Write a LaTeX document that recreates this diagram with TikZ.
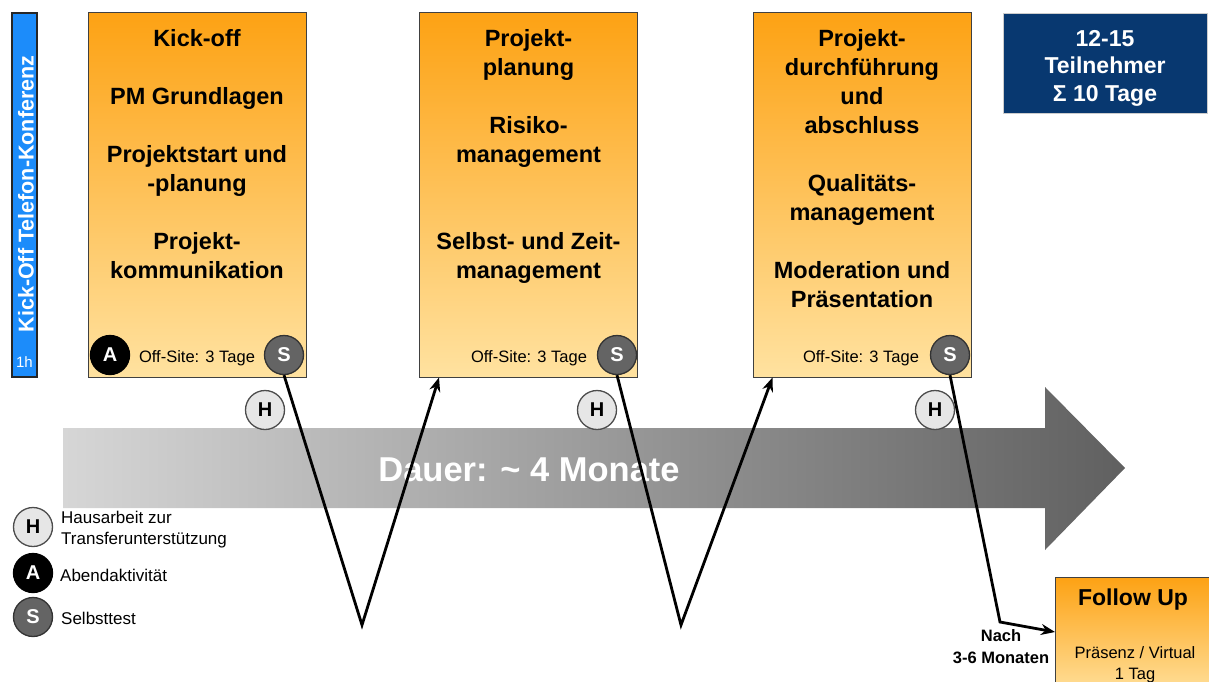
\documentclass[tikz,border=0pt]{standalone}
\usepackage{fontspec}
\setmainfont{Liberation Sans}
\usetikzlibrary{arrows.meta}
\definecolor{orgT}{RGB}{253,162,20}
\definecolor{orgB}{RGB}{255,226,160}
\definecolor{navybox}{RGB}{8,56,112}
\definecolor{kblue}{RGB}{28,140,250}
\definecolor{sgray}{RGB}{100,100,100}
\definecolor{hgray}{RGB}{230,230,230}
\definecolor{arrL}{RGB}{214,214,214}
\definecolor{arrM}{RGB}{180,180,180}
\definecolor{arrR}{RGB}{96,96,96}
\begin{document}
\begin{tikzpicture}[x=1pt,y=-1pt,
  obox/.style={draw=black!75, line width=1pt, top color=orgT, bottom color=orgB, minimum width=218pt, minimum height=364pt, inner sep=0pt},
  boxtxt/.style={anchor=north, align=center, inner sep=0pt, font=\fontsize{23.5}{29}\selectfont\bfseries},
  offsite/.style={inner sep=0pt, font=\fontsize{16.5}{20}\selectfont},
  circ/.style={circle, minimum size=39pt, inner sep=0pt, line width=1.3pt, font=\fontsize{20}{22}\selectfont\bfseries},
  hc/.style={circ, fill=hgray, draw=black!70},
  sc/.style={circ, fill=sgray, draw=black!80, text=white},
  ac/.style={circ, fill=black, draw=black, text=white},
  conn/.style={line width=2.8pt, line join=miter},
  legtxt/.style={anchor=west, align=left, inner sep=0pt, font=\fontsize{17}{21}\selectfont}
]
\useasboundingbox (0,0) rectangle (1209,682);

% big duration arrow
\shade[left color=arrL, middle color=arrM, right color=arrR] (63,428) -- (1045,428) -- (1045,387) -- (1125,468) -- (1045,550) -- (1045,508) -- (63,508) -- cycle;
\node[text=white, font=\fontsize{34.5}{40}\selectfont\bfseries] (dauer) at (529,470) {Dauer: \textasciitilde\ 4 Monate};

% blue kick-off bar
\node[draw=black!85, line width=1.2pt, fill=kblue, minimum width=25pt, minimum height=364pt, inner sep=0pt] (kbar) at (24.5,195) {};
\node[rotate=90, text=white, font=\fontsize{21.5}{24}\selectfont\bfseries, inner sep=0pt] (ktxt) at (26,194) {Kick-Off Telefon-Konferenz};
\node[text=white, font=\fontsize{15}{18}\selectfont, inner sep=0pt] (kh) at (24.5,362) {1h};

% module boxes
\node[obox] (b1) at (197,195) {};
\node[obox] (b2) at (528.5,195) {};
\node[obox] (b3) at (862,195) {};

\node[boxtxt] (t1) at (197,29) {Kick-off\\[29pt]PM Grundlagen\\[29pt]Projektstart und\\-planung\\[29pt]Projekt-\\kommunikation};
\node[boxtxt] (t2) at (528.5,29) {Projekt-\\planung\\[29pt]Risiko-\\management\\[58pt]Selbst- und Zeit-\\management};
\node[boxtxt] (t3) at (862,29) {Projekt-\\durchführung\\und\\abschluss\\[29pt]Qualitäts-\\management\\[29pt]Moderation und\\Präsentation};

\node[offsite] (o1) at (197,358) {Off-Site: 3 Tage};
\node[offsite] (o2) at (529,358) {Off-Site: 3 Tage};
\node[offsite] (o3) at (861,358) {Off-Site: 3 Tage};

% participants box
\node[fill=navybox, draw=black!20, line width=0.6pt, minimum width=204pt, minimum height=100pt, inner sep=0pt] (tn) at (1105,63) {};
\node[text=white, align=center, inner sep=0pt, font=\fontsize{23}{27.5}\selectfont\bfseries] (tntxt) at (1105,68) {12-15\\Teilnehmer\\Σ 10 Tage};

% follow up box
\node[draw=black!75, line width=1pt, top color=orgT, bottom color=orgB, minimum width=160pt, minimum height=120pt, inner sep=0pt, anchor=north west] (fu) at (1055,577) {};
\node[font=\fontsize{23}{28}\selectfont\bfseries, inner sep=0pt] (futitle) at (1133,600) {Follow Up};
\node[align=center, inner sep=0pt, font=\fontsize{16.5}{21}\selectfont] (fusub) at (1135,665) {Präsenz / Virtual\\1 Tag};
\node[align=center, inner sep=0pt, font=\fontsize{16.5}{22}\selectfont\bfseries] (nach) at (1001,647) {Nach\\3-6 Monaten};

% connectors
\coordinate (v1) at (362,625);
\coordinate (v2) at (681,625);
\coordinate (v3) at (1000,622);

% circles on boxes
\node[ac] (a1) at (110,355) {A};
\node[sc] (s1) at (284,355) {S};
\node[sc] (s2) at (617,355) {S};
\node[sc] (s3) at (950,355) {S};

\draw[conn, -{Stealth[length=14pt,width=11pt]}] (s1.south) -- (v1) -- ([xshift=20pt]b2.south west);
\draw[conn, -{Stealth[length=14pt,width=11pt]}] (s2.south) -- (v2) -- ([xshift=20pt]b3.south west);
\draw[conn, -{Stealth[length=14pt,width=11pt]}] (s3.south) -- (v3) -- ([yshift=-55pt]fu.north west);

\node[hc] (h1) at (265,410) {H};
\node[hc] (h2) at (597,410) {H};
\node[hc] (h3) at (935,410) {H};

% legend
\node[hc] (lh) at (33,527) {H};
\node[ac] (la) at (33,573) {A};
\node[sc] (ls) at (33,617) {S};
\node[legtxt] (lht) at (61,530) {Hausarbeit zur\\Transferunterstützung};
\node[legtxt] (lat) at (60,575) {Abendaktivität};
\node[legtxt] (lst) at (61,618) {Selbsttest};
\end{tikzpicture}
\end{document}
